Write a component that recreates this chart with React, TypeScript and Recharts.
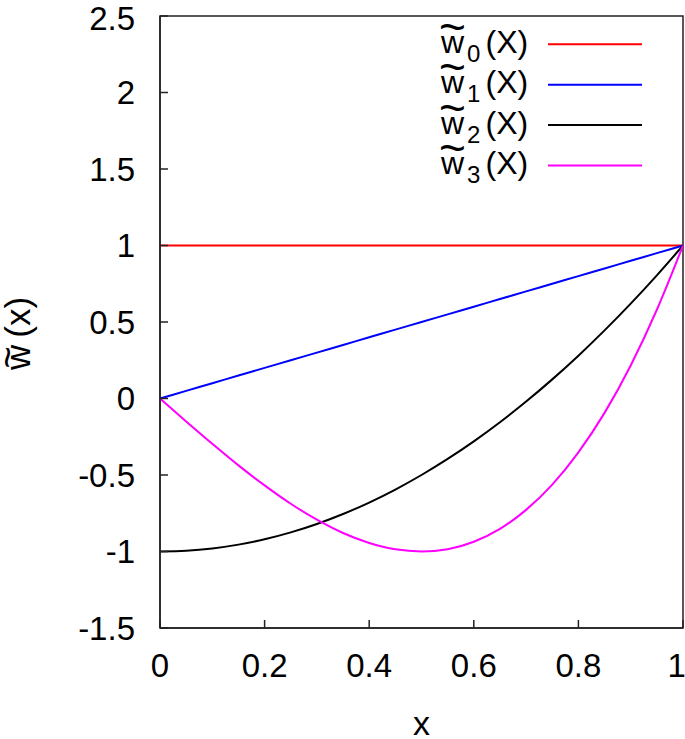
import React from 'react';
import {LineChart, Line, XAxis, YAxis, ReferenceArea, Label} from 'recharts';

const xValues = [0, 0.05, 0.1, 0.15, 0.2, 0.25, 0.3, 0.35, 0.4, 0.45, 0.5, 0.55, 0.6, 0.65, 0.7, 0.75, 0.8, 0.85, 0.9, 0.95, 1];
const w0Values = [1, 1, 1, 1, 1, 1, 1, 1, 1, 1, 1, 1, 1, 1, 1, 1, 1, 1, 1, 1, 1];
const w1Values = [0, 0.05, 0.1, 0.15, 0.2, 0.25, 0.3, 0.35, 0.4, 0.45, 0.5, 0.55, 0.6, 0.65, 0.7, 0.75, 0.8, 0.85, 0.9, 0.95, 1];
const w2Values = [-1, -0.995, -0.98, -0.955, -0.92, -0.875, -0.82, -0.755, -0.68, -0.595, -0.5, -0.395, -0.28, -0.155, -0.02, 0.125, 0.28, 0.445, 0.62, 0.805, 1];
const w3Values = [0, -0.15, -0.296, -0.437, -0.568, -0.688, -0.792, -0.879, -0.944, -0.986, -1, -0.985, -0.936, -0.852, -0.728, -0.563, -0.352, -0.094, 0.216, 0.58, 1];

const xTicks = [0, 0.2, 0.4, 0.6, 0.8, 1];
const yTicks = [-1.5, -1, -0.5, 0, 0.5, 1, 1.5, 2, 2.5];

const seriesKeys = ['w0', 'w1', 'w2', 'w3'];
const seriesIndex = ['0', '1', '2', '3'];
const seriesColors = ['#ff0000', '#0000ff', '#000000', '#ff00ff'];

const chartData = xValues.map((x, i) => ({
    x,
    w0: w0Values[i],
    w1: w1Values[i],
    w2: w2Values[i],
    w3: w3Values[i],
}));

const FONT = '"Liberation Sans", Arial, sans-serif';

// w with a wide tilde on top, optional subscript, then the argument
const TildeW = ({x, y, size, sub, arg, gap, tildeSize, lift}: any) => (
    <g fontFamily={FONT} fill='#000'>
        <text x={x + size * 0.36} y={y - lift} fontSize={tildeSize} textAnchor='middle'>~</text>
        <text x={x} y={y} fontSize={size}>
            w
            {sub !== undefined ? (
                <tspan dx={3} dy={9} fontSize={size * 0.75}>{sub}</tspan>
            ) : null}
            <tspan dx={gap} dy={sub !== undefined ? -9 : 0}>{arg}</tspan>
        </text>
    </g>
);

const LegendBox = () => (
    <g>
        {seriesKeys.map((k, i) => {
            const y = 44.3 + i * 40.4;
            return (
                <g key={k}>
                    <TildeW x={441} y={y + 8.7} size={32} sub={seriesIndex[i]} arg='(X)' gap={5} tildeSize={46} lift={10} />
                    <line x1={548} x2={642} y1={y} y2={y} stroke={seriesColors[i]} strokeWidth={2} />
                </g>
            );
        })}
    </g>
);

const YTitle = (props: any) => {
    const vb = props.viewBox || {x: 100, y: 16, height: 612};
    const cy = vb.y + vb.height / 2 + 9;
    return (
        <g transform={`translate(30, ${cy}) rotate(-90)`}>
            <TildeW x={-39} y={0} size={35} arg='(x)' gap={7} tildeSize={38} lift={9} />
        </g>
    );
};

const XTitle = (props: any) => {
    const vb = props.viewBox || {x: 160, width: 522, y: 628};
    return (
        <text x={vb.x + vb.width / 2} y={735} textAnchor='middle' fontFamily={FONT} fontSize={34}>
            x
        </text>
    );
};

const App = () => {
    return (
        <div style={{position: 'absolute', left: 0, top: 0}}>
            <LineChart
                width={685}
                height={739}
                data={chartData}
                margin={{top: 16, right: 2, bottom: 51, left: 100}}
            >
                <XAxis
                    dataKey='x'
                    type='number'
                    domain={[0, 1]}
                    ticks={xTicks}
                    height={60}
                    stroke='#222'
                    strokeWidth={1.5}
                    tickSize={-8}
                    tickMargin={34}
                    tick={{fill: '#000', fontSize: 33, fontFamily: FONT}}
                >
                    <Label content={<XTitle />} />
                </XAxis>
                <YAxis
                    type='number'
                    domain={[-1.5, 2.5]}
                    ticks={yTicks}
                    width={60}
                    allowDataOverflow
                    stroke='#222'
                    strokeWidth={1.5}
                    tickSize={-8}
                    tickMargin={33}
                    tick={{fill: '#000', fontSize: 33, fontFamily: FONT}}
                >
                    <Label content={<YTitle />} />
                </YAxis>
                <ReferenceArea x1={0} x2={1} y1={-1.5} y2={2.5} fill='none' stroke='#222' strokeWidth={1.5} />
                {seriesKeys.map((k, i) => (
                    <Line
                        key={k}
                        dataKey={k}
                        type='monotone'
                        stroke={seriesColors[i]}
                        strokeWidth={2}
                        dot={false}
                        isAnimationActive={false}
                    />
                ))}
                <LegendBox />
            </LineChart>
        </div>
    );
};

export default App;
